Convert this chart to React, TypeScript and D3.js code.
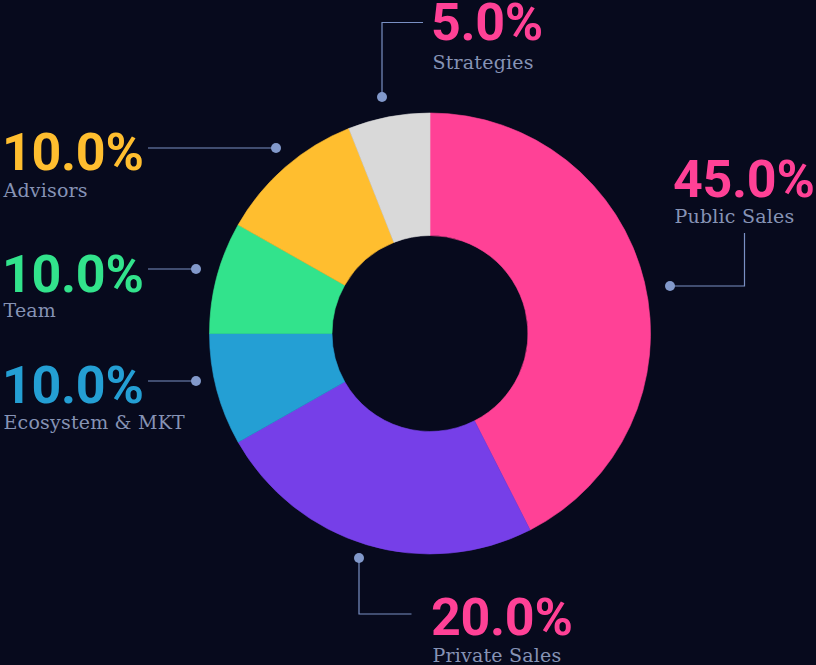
import * as d3 from "d3";

// slices, clockwise from 12 o'clock
const categories = ["Public Sales", "Private Sales", "Ecosystem & MKT", "Team", "Advisors", "Strategies"];
const percentLabels = ["45.0%", "20.0%", "10.0%", "10.0%", "10.0%", "5.0%"];
// share of the ring each slice takes, as drawn
const shares = [42.5, 24.3, 8.2, 8.2, 10.8, 6.0];
const sliceColors = ["#FF4196", "#763FE8", "#249FD4", "#32E38C", "#FFBE2F", "#D9D9D9"];
const percentColors = ["#FF4196", "#FF4196", "#249FD4", "#32E38C", "#FFBE2F", "#FF4196"];

const W = 816;
const H = 665;
const cx = 430;
const cy = 333.5;
const outerR = 220.5;
const innerR = 98;

type Bend = "h" | "vh" | "hv";
// label placement per slice (same order as categories): dot, elbow target, text
const layout: { dx: number; dy: number; tx: number; ty: number; sub: number; bend: Bend; ex: number; ey: number }[] = [
  { dx: 670, dy: 286, tx: 673, ty: 196.5, sub: 26.5, bend: "hv", ex: 744.5, ey: 233 },
  { dx: 359, dy: 558, tx: 431, ty: 635, sub: 26.7, bend: "vh", ex: 411.5, ey: 614 },
  { dx: 196, dy: 381, tx: 2, ty: 403, sub: 26.3, bend: "h", ex: 148, ey: 0 },
  { dx: 196, dy: 269, tx: 2, ty: 291.5, sub: 25.5, bend: "h", ex: 148, ey: 0 },
  { dx: 276, dy: 148, tx: 2, ty: 170, sub: 26.7, bend: "h", ex: 148, ey: 0 },
  { dx: 382, dy: 97, tx: 431, ty: 39.5, sub: 29.8, bend: "vh", ex: 423, ey: 22.5 },
];

export default function App() {
  const pie = d3
    .pie<number>()
    .sort(null)
    .value((d) => d)
    .startAngle(0)
    .endAngle(2 * Math.PI);
  const arcs = pie(shares);

  const arc = d3.arc<d3.PieArcDatum<number>>().innerRadius(innerR).outerRadius(outerR);

  return (
    <div style={{ position: "fixed", left: 0, top: 0, width: W, height: H, background: "#070A1D" }}>
      <svg width={W} height={H} style={{ display: "block" }}>
        <g transform={`translate(${cx},${cy})`}>
          {arcs.map((a, i) => (
            <path key={i} d={arc(a) ?? ""} fill={sliceColors[i]} stroke={sliceColors[i]} strokeWidth={0.6} />
          ))}
        </g>
        {categories.map((name, i) => {
          const l = layout[i];
          const x = l.dx;
          const y = l.dy;
          let pts: [number, number][];
          if (l.bend === "h") pts = [[x, y], [l.ex, y]];
          else if (l.bend === "vh") pts = [[x, y], [x, l.ey], [l.ex, l.ey]];
          else pts = [[x, y], [l.ex, y], [l.ex, l.ey]];
          return (
            <g key={name}>
              <path d={d3.line()(pts) ?? ""} fill="none" stroke="#7A90C4" strokeWidth={1.2} />
              <circle cx={x} cy={y} r={5} fill="#8299CB" />
              <text
                x={l.tx}
                y={l.ty}
                fill={percentColors[i]}
                fontFamily="Roboto, sans-serif"
                fontWeight={700}
                fontSize={52}
                letterSpacing={-0.3}
              >
                {percentLabels[i]}
              </text>
              <text
                x={l.tx + 1.5}
                y={l.ty + l.sub}
                fill="#8693B5"
                fontFamily="'DejaVu Serif', serif"
                fontSize={19}
                letterSpacing={0.2}
              >
                {name}
              </text>
            </g>
          );
        })}
      </svg>
    </div>
  );
}
